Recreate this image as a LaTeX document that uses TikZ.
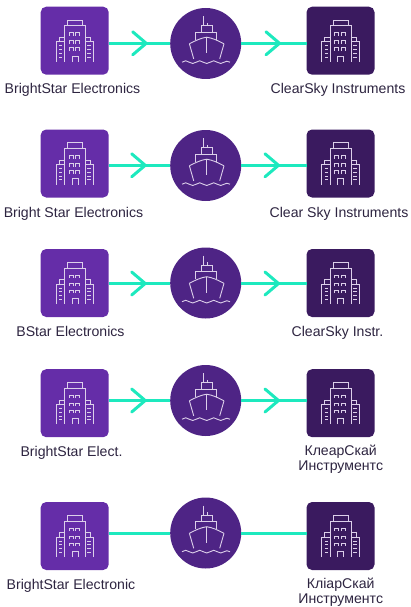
\documentclass[tikz,border=0pt]{standalone}
\usepackage{fontspec}
\setmainfont{Liberation Sans}
\usetikzlibrary{arrows.meta,calc}
\definecolor{boxL}{HTML}{652DA8}
\definecolor{boxR}{HTML}{3A1A5F}
\definecolor{shipC}{HTML}{4E2485}
\definecolor{linkC}{HTML}{1DE9BE}
\definecolor{iconC}{HTML}{DCCFEA}
\definecolor{txtC}{HTML}{2D2440}
\tikzset{
  boxbase/.style={rounded corners=5.5pt,minimum width=68pt,minimum height=68pt,inner sep=0pt,outer sep=0pt},
  leftbox/.style={boxbase,fill=boxL},
  rightbox/.style={boxbase,fill=boxR},
  shipdisc/.style={circle,fill=shipC,minimum size=71pt,inner sep=0pt,outer sep=0pt},
  lab/.style={text=txtC,font=\fontsize{14.1}{14.6}\selectfont,align=center,inner sep=0pt,anchor=base},
  link/.style={draw=linkC,line width=3pt},
  linkhead/.style={link,-{Straight Barb[length=13.5pt,width=23pt,line width=3pt,round]}},
  ico/.style={draw=iconC,line width=0.8pt,fill=none},
  building/.pic={
    \draw[ico] (-7.3,-15) -- (-7.3,-20.7) -- (8,-20.7) -- (8,-15);
    \draw[ico] (-10.5,21) -- (-10.5,-15) -- (10.5,-15) -- (10.5,21);
    \draw[ico] (-18.7,21) -- (-18.7,1) -- (-10.5,1);
    \draw[ico] (-15.7,1) -- (-15.7,-3.3) -- (-10.5,-3.3);
    \draw[ico] (19,21) -- (19,1) -- (10.5,1);
    \draw[ico] (16,1) -- (16,-3.3) -- (10.5,-3.3);
    \draw[ico] (-2.7,21) -- (-2.7,15.3) -- (3.3,15.3) -- (3.3,21);
    \foreach \wy in {-8,0,7}{
      \draw[ico] (-5.7,\wy+3) -- (-5.7,\wy) -- (-1.7,\wy) -- (-1.7,\wy+3);
      \draw[ico] (1,\wy+3) -- (1,\wy) -- (5,\wy) -- (5,\wy+3);
    }
    \foreach \wy in {5,8.7,12.7,16.3}{
      \draw[ico] (-15.7,\wy) -- (-12.3,\wy);
      \draw[ico] (12.7,\wy) -- (16,\wy);
    }
  },
  ship/.pic={
    \draw[ico] (-2.3,-27.3) -- (-2.3,-18);
    \draw[ico] (1.7,-20.7) -- (1.7,-18);
    \draw[ico] (-10,-3.7) -- (-10,-11.3) -- (11,-11.3) -- (11,-3.7);
    \draw[ico] (-4.3,-11.3) -- (-4.3,-18) -- (6.3,-18) -- (6.3,-11.3);
    \draw[ico,line width=0.9pt] (-16.3,0.3) .. controls (-10,-3) and (-5,-5.4) .. (1,-6.3) .. controls (7,-5.4) and (12,-3) .. (18.3,0.3);
    \draw[ico,line width=0.9pt] (-16.3,0.3) -- (-12,15.3);
    \draw[ico,line width=0.9pt] (18.3,0.3) -- (14,15.3);
    \draw[ico,line width=0.9pt] (1,-6.3) -- (1,9.7);
    \draw[ico,line width=0.9pt] (-23.7,18.7)
      .. controls (-21,16.8) and (-19,16.8) .. (-16.5,18.7)
      .. controls (-14,20.4) and (-12,20.4) .. (-9.5,18.7)
      .. controls (-7,16.8) and (-5,16.8) .. (-2.5,18.7)
      .. controls (0,20.4) and (2,20.4) .. (4.5,18.7)
      .. controls (7,16.8) and (9,16.8) .. (11.5,18.7)
      .. controls (14,20.4) and (16,20.4) .. (18.5,18.7)
      .. controls (20,17.4) and (22,17.4) .. (24.3,18.7);
  }
}
\begin{document}
\begin{tikzpicture}[x=1pt,y=-1pt]
\useasboundingbox (0,0) rectangle (410,607);
% row 1
\node[leftbox] (a1) at (74.7,40.7) {};
\node[rightbox] (b1) at (340.5,40.7) {};
\node[shipdisc] (s1) at (205.7,43.5) {};
\coordinate (p1) at (147.7,43.3);
\coordinate (q1) at (281,43.3);
\draw[linkhead] (a1.east |- p1) -- (p1);
\draw[link] ([xshift=-5pt]p1) -- (p1 -| s1.west);
\draw[linkhead] (p1 -| s1.east) -- (q1);
\draw[link] ([xshift=-5pt]q1) -- (q1 -| b1.west);
\pic at (a1) {building}; \pic at (b1) {building}; \pic at (s1) {ship};
\node[lab] (la1) at (72.5,94) {BrightStar Electronics};
\node[lab] (lb1) at (338,94) {ClearSky Instruments};
% row 2
\node[leftbox] (a2) at (74.7,163.5) {};
\node[rightbox] (b2) at (340.5,163.5) {};
\node[shipdisc] (s2) at (205.7,165.5) {};
\coordinate (p2) at (146.7,165.3);
\coordinate (q2) at (280,165.3);
\draw[linkhead] (a2.east |- p2) -- (p2);
\draw[link] ([xshift=-5pt]p2) -- (p2 -| s2.west);
\draw[linkhead] (p2 -| s2.east) -- (q2);
\draw[link] ([xshift=-5pt]q2) -- (q2 -| b2.west);
\pic at (a2) {building}; \pic at (b2) {building}; \pic at (s2) {ship};
\node[lab] (la2) at (73.5,217) {Bright Star Electronics};
\node[lab] (lb2) at (339,217) {Clear Sky Instruments};
% row 3
\node[leftbox] (a3) at (74.7,283) {};
\node[rightbox] (b3) at (340.5,283) {};
\node[shipdisc] (s3) at (205.7,283) {};
\coordinate (p3) at (146.7,283.5);
\coordinate (q3) at (280,283.5);
\draw[linkhead] (a3.east |- p3) -- (p3);
\draw[link] ([xshift=-5pt]p3) -- (p3 -| s3.west);
\draw[linkhead] (p3 -| s3.east) -- (q3);
\draw[link] ([xshift=-5pt]q3) -- (q3 -| b3.west);
\pic at (a3) {building}; \pic at (b3) {building}; \pic at (s3) {ship};
\node[lab] (la3) at (70.5,336) {BStar Electronics};
\node[lab] (lb3) at (337.5,336) {ClearSky Instr.};
% row 4
\node[leftbox] (a4) at (74.7,403.2) {};
\node[rightbox] (b4) at (340.5,403.2) {};
\node[shipdisc] (s4) at (205.7,400.5) {};
\coordinate (p4) at (146.7,400.5);
\coordinate (q4) at (280,400.5);
\draw[linkhead] (a4.east |- p4) -- (p4);
\draw[link] ([xshift=-5pt]p4) -- (p4 -| s4.west);
\draw[linkhead] (p4 -| s4.east) -- (q4);
\draw[link] ([xshift=-5pt]q4) -- (q4 -| b4.west);
\pic at (a4) {building}; \pic at (b4) {building}; \pic at (s4) {ship};
\node[lab] (la4) at (71.5,456) {BrightStar Elect.};
\node[lab,anchor=center] (lb4) at (340.7,459.5) {КлеарСкай\\Инструментс};
% row 5
\node[leftbox] (a5) at (74.7,536) {};
\node[rightbox] (b5) at (340.5,536) {};
\node[shipdisc] (s5) at (205.7,533) {};
\draw[link] (a5.east |- s5.center) -- (s5.west);
\draw[link] (s5.east) -- (b5.west |- s5.center);
\pic at (a5) {building}; \pic at (b5) {building}; \pic at (s5) {ship};
\node[lab] (la5) at (71,589) {BrightStar Electronic};
\node[lab,anchor=center] (lb5) at (340.7,592) {КліарСкай\\Инструментс};
\end{tikzpicture}
\end{document}
